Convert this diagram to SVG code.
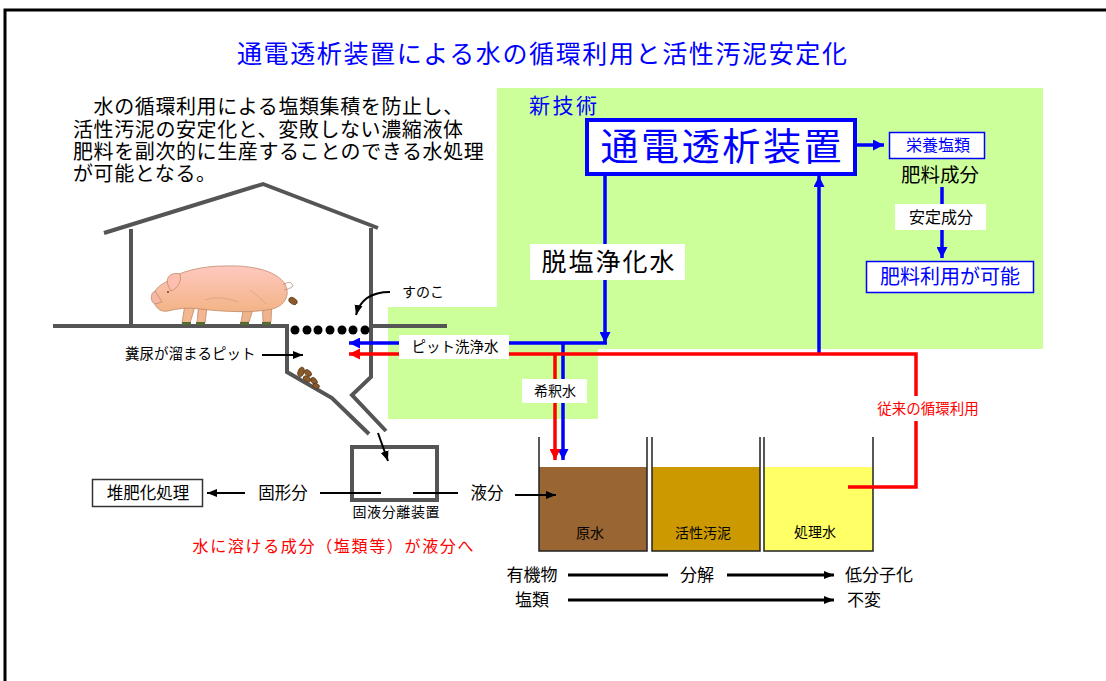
<svg xmlns="http://www.w3.org/2000/svg" width="1106" height="681" viewBox="0 0 1106 681">
  <style>
    text { font-family: "Liberation Sans", "Noto Sans CJK JP", sans-serif; dominant-baseline: central; }
    .c { text-anchor: middle; }
    .blue { fill: #0000ff; }
    .red { fill: #ff0000; }
    .blk { fill: #000000; }
    .wall { fill: none; stroke: #555555; stroke-width: 4; stroke-linejoin: miter; }
    .bl { fill: none; stroke: #0000ff; stroke-width: 3.5; }
    .rl { fill: none; stroke: #ff0000; stroke-width: 3.5; }
    .kl { fill: none; stroke: #000000; stroke-width: 2; }
    .kl3 { fill: none; stroke: #000000; stroke-width: 3; }
    .lbl { fill: #ffffff; }
    .tankwall { fill: none; stroke: #222222; stroke-width: 1.5; }
  </style>
  <defs>
    <marker id="ahB" viewBox="0 0 10 10" refX="10" refY="5" markerWidth="11" markerHeight="11" markerUnits="userSpaceOnUse" orient="auto">
      <path d="M0,0 L10,5 L0,10 z" fill="#0000ff"/>
    </marker>
    <marker id="ahR" viewBox="0 0 10 10" refX="10" refY="5" markerWidth="11" markerHeight="11" markerUnits="userSpaceOnUse" orient="auto">
      <path d="M0,0 L10,5 L0,10 z" fill="#ff0000"/>
    </marker>
    <marker id="ahK" viewBox="0 0 10 10" refX="10" refY="5" markerWidth="10" markerHeight="10" markerUnits="userSpaceOnUse" orient="auto">
      <path d="M0,1 L10,5 L0,9 z" fill="#000000"/>
    </marker>
    <linearGradient id="pigSkin" x1="0" y1="0" x2="0" y2="1">
      <stop offset="0" stop-color="#ffc8c0"/>
      <stop offset="1" stop-color="#f2b486"/>
    </linearGradient>
  </defs>

  <!-- outer frame -->
  <rect x="5" y="10" width="1110" height="700" fill="#ffffff" stroke="#000000" stroke-width="3"/>

  <!-- green area of the new technology -->
  <path d="M497,88 H1043 V349 H598 V419 H388 V307 H497 Z" fill="#ccff99"/>

  <!-- title and description -->
  <text class="c blue" x="542" y="54" font-size="25" textLength="610" lengthAdjust="spacing">通電透析装置による水の循環利用と活性汚泥安定化</text>
  <g id="description" class="blk" font-size="20" letter-spacing="0.6">
    <text x="73" y="107">　水の循環利用による塩類集積を防止し、</text>
    <text x="73" y="130">活性汚泥の安定化と、変敗しない濃縮液体</text>
    <text x="73" y="152">肥料を副次的に生産することのできる水処理</text>
    <text x="73" y="174">が可能となる。</text>
  </g>
  <text class="blue" x="529" y="105" font-size="21" textLength="68" lengthAdjust="spacing">新技術</text>

  <!-- pig house -->
  <g id="pig-house">
    <polyline class="wall" points="104,233 263,184 378,228"/>
    <polyline class="wall" points="131,229 131,326 287,326 287,372 332,398 369,434"/>
    <polyline class="wall" points="371,228 371,377 352,395 386,431"/>
    <line class="wall" x1="53" y1="326" x2="131" y2="326"/>
    <line class="wall" x1="371" y1="326" x2="447" y2="326"/>
    <g id="slats" fill="#000000">
      <circle cx="295" cy="330" r="4.5"/>
      <circle cx="307" cy="330" r="4.5"/>
      <circle cx="318" cy="330" r="4.5"/>
      <circle cx="330" cy="330" r="4.5"/>
      <circle cx="342" cy="330" r="4.5"/>
      <circle cx="353" cy="330" r="4.5"/>
      <circle cx="365" cy="330" r="4.5"/>
    </g>
    <g id="manure" fill="#8b5a2b" stroke="#5a3a1a" stroke-width="0.8">
      <ellipse cx="293" cy="301" rx="4.5" ry="3" transform="rotate(30 293 301)"/>
      <ellipse cx="301" cy="372" rx="3" ry="5" transform="rotate(20 301 372)"/>
      <ellipse cx="308" cy="373" rx="4" ry="2.6" transform="rotate(40 308 373)"/>
      <ellipse cx="307" cy="379" rx="4" ry="2.6" transform="rotate(30 307 379)"/>
      <ellipse cx="314" cy="381" rx="4" ry="2.6" transform="rotate(50 314 381)"/>
      <ellipse cx="316" cy="386" rx="3.5" ry="2.3" transform="rotate(20 316 386)"/>
    </g>
  </g>

  <!-- pig -->
  <g id="pig" stroke="#c08a6a" stroke-width="0.8">
    <path d="M245,300 L241,322 L249,322 L255,303 Z" fill="#f0b48c"/>
    <path d="M262,299 L263,322 L271,322 L272,298 Z" fill="#f0b48c"/>
    <path d="M186,298 L182,323 L190,323 L197,300 Z" fill="#f2b690"/>
    <path d="M199,300 L197,323 L205,323 L208,300 Z" fill="#f2b690"/>
    <path d="M166,282 C178,271 203,266 225,266 C250,265 276,270 285,284 C291,296 284,306 272,309 C255,313 225,312 200,309 C186,307 176,309 168,311 C159,313 153,305 154,298 C153,291 158,286 166,282 Z" fill="url(#pigSkin)"/>
    <path d="M155,291 C150,293 150,302 155,304 L162,302 Z" fill="#f6b8a4"/>
    <path d="M168,285 C165,276 172,272 180,274 C182,281 178,288 171,291 Z" fill="#ffbfb0"/>
    <path d="M283,285 C288,281 292,282 293,286 C290,289 287,289 284,290" fill="none"/>
    <path d="M205,300 C215,296 228,298 238,302 M250,290 C258,296 262,300 266,304" fill="none" stroke="#d8a080"/>
    <circle cx="168" cy="292" r="0.9" fill="#553322" stroke="none"/>
    <g fill="#556b2f" stroke="none">
      <rect x="182" y="322" width="9" height="3"/>
      <rect x="196" y="322" width="9" height="3"/>
      <rect x="240" y="322" width="9" height="3"/>
      <rect x="262" y="322" width="9" height="3"/>
    </g>
  </g>

  <!-- pit labels -->
  <text class="blk" x="402" y="292" font-size="14">すのこ</text>
  <text class="blk" x="125" y="354" font-size="14.5">糞尿が溜まるピット</text>

  <!-- solid-liquid separator -->
  <g id="separator">
    <rect x="352" y="447" width="85" height="53" fill="#ffffff" stroke="#555555" stroke-width="4"/>
    <text class="c blk" x="396" y="512" font-size="14" textLength="87" lengthAdjust="spacing">固液分離装置</text>
  </g>
  <g id="compost">
    <rect x="92.5" y="479.5" width="110" height="27" fill="#ffffff" stroke="#333333" stroke-width="1.5"/>
    <text class="c blk" x="148" y="493" font-size="16.5">堆肥化処理</text>
  </g>
  <text class="c blk" x="283" y="493" font-size="16.5">固形分</text>
  <text class="c blk" x="487" y="493" font-size="16.5">液分</text>
  <text class="c red" x="333" y="546" font-size="16" textLength="281" lengthAdjust="spacing">水に溶ける成分（塩類等）が液分へ</text>

  <!-- tanks -->
  <g id="tank-raw">
    <rect x="539" y="467" width="108" height="84" fill="#996633"/>
    <polyline class="tankwall" points="539,437 539,551 647,551 647,437"/>
    <text class="c blk" x="590" y="533" font-size="14">原水</text>
  </g>
  <g id="tank-sludge">
    <rect x="652" y="467" width="108" height="84" fill="#cc9900"/>
    <polyline class="tankwall" points="652,437 652,551 760,551 760,437"/>
    <text class="c blk" x="703" y="533" font-size="14">活性汚泥</text>
  </g>
  <g id="tank-treated">
    <rect x="764" y="467" width="109" height="84" fill="#ffff66"/>
    <polyline class="tankwall" points="764,437 764,551 873,551 873,437"/>
    <text class="c blk" x="815" y="532" font-size="14">処理水</text>
  </g>

  <!-- electrodialysis unit and products -->
  <g id="ed-unit">
    <rect x="587" y="120" width="268" height="54" fill="#ffffff" stroke="#0000ff" stroke-width="4"/>
    <text class="c blue" x="721" y="147" font-size="38" textLength="241" lengthAdjust="spacing">通電透析装置</text>
  </g>
  <g id="nutrient-salts">
    <rect x="889.5" y="132.5" width="95" height="26" fill="#ffffff" stroke="#0000ff" stroke-width="1.5"/>
    <text class="c blue" x="938" y="145" font-size="16">栄養塩類</text>
  </g>
  <text class="c blk" x="940" y="175" font-size="19.5">肥料成分</text>
  <g id="fertilizer-use">
    <rect x="866.5" y="261.5" width="167" height="31" fill="#ffffff" stroke="#0000ff" stroke-width="1.5"/>
    <text class="c blue" x="950" y="277" font-size="20">肥料利用が可能</text>
  </g>

  <!-- connectors -->
  <g id="connectors">
    <line class="bl" x1="855" y1="145" x2="884" y2="145" stroke-width="3" marker-end="url(#ahB)"/>
    <line class="bl" x1="942" y1="187" x2="942" y2="258" stroke-width="2.5" marker-end="url(#ahB)"/>
    <line class="bl" x1="605" y1="174" x2="605" y2="343" marker-end="url(#ahB)"/>
    <polyline class="bl" points="607,343 349,343" marker-end="url(#ahB)"/>
    <line class="bl" x1="563" y1="343" x2="563" y2="460" marker-end="url(#ahB)"/>
    <line class="bl" x1="819" y1="354" x2="819" y2="176" marker-end="url(#ahB)"/>
    <polyline class="rl" points="848,487 916,487 916,354 349,354" marker-end="url(#ahR)"/>
    <line class="rl" x1="555" y1="354" x2="555" y2="460" marker-end="url(#ahR)"/>

    <path class="kl" d="M390,292 Q362,292 356,315" stroke-width="1.5" marker-end="url(#ahK)"/>
    <line class="kl" x1="262" y1="355" x2="303" y2="355" stroke-width="1.5" marker-end="url(#ahK)"/>
    <line class="kl" x1="378" y1="433" x2="388" y2="461" marker-end="url(#ahK)"/>
    <line class="kl" x1="320" y1="493" x2="381" y2="493"/>
    <line class="kl" x1="413" y1="493" x2="458" y2="493"/>
    <line class="kl" x1="245" y1="493" x2="207" y2="493" marker-end="url(#ahK)"/>
    <line class="kl" x1="515" y1="495" x2="556" y2="495" marker-end="url(#ahK)"/>

    <line class="kl3" x1="568" y1="575" x2="668" y2="575"/>
    <line class="kl3" x1="727" y1="575" x2="834" y2="575" marker-end="url(#ahK)"/>
    <line class="kl3" x1="568" y1="600" x2="834" y2="600" marker-end="url(#ahK)"/>
  </g>

  <!-- connector labels -->
  <g id="connector-labels">
    <rect class="lbl" x="530" y="244" width="155" height="36"/>
    <text class="c blk" x="608" y="262" font-size="25" textLength="133" lengthAdjust="spacing">脱塩浄化水</text>
    <rect class="lbl" x="895" y="204" width="91" height="26"/>
    <text class="c blk" x="941" y="217" font-size="16">安定成分</text>
    <rect class="lbl" x="399" y="335" width="110" height="24"/>
    <text class="c blk" x="455" y="347" font-size="14.5">ピット洗浄水</text>
    <rect class="lbl" x="522" y="379" width="65" height="24"/>
    <text class="c blk" x="555" y="391" font-size="14">希釈水</text>
    <rect class="lbl" x="875" y="396" width="106" height="25"/>
    <text class="c red" x="928" y="409" font-size="14.5">従来の循環利用</text>
  </g>

  <!-- decomposition legend -->
  <g id="legend" class="blk" font-size="17">
    <text class="c" x="532" y="575">有機物</text>
    <text class="c" x="697" y="575">分解</text>
    <text x="845" y="575">低分子化</text>
    <text x="515" y="600">塩類</text>
    <text x="847" y="600">不変</text>
  </g>
</svg>
